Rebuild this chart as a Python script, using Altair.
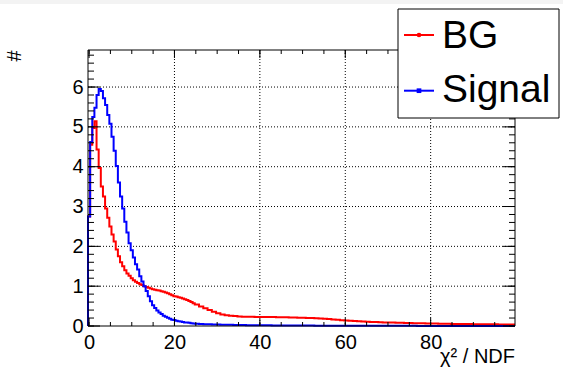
import altair as alt
import pandas as pd

# ---------------- data ----------------
# histogram range and bin layout: 0.5-wide bins (centred 0.0 ... 24.5), then 1-wide bins up to the end
x_lo = -0.25
x_hi = 99.75
fine_width = 0.5
coarse_width = 1.0

bg_fine = [2.75, 4.55, 4.97, 5.14, 4.43, 3.97, 3.50, 3.25, 2.95, 2.72,
           2.50, 2.30, 2.12, 1.92, 1.75, 1.60, 1.50, 1.40, 1.32, 1.26,
           1.20, 1.15, 1.11, 1.08, 1.05, 1.03, 1.00, 0.98, 0.96, 0.94,
           0.92, 0.91, 0.90, 0.89, 0.87, 0.86, 0.84, 0.82, 0.80, 0.77,
           0.75, 0.74, 0.72, 0.71, 0.69, 0.67, 0.65, 0.63, 0.60, 0.57]
bg_coarse = [0.54, 0.49, 0.445, 0.40, 0.355,
             0.32, 0.29, 0.27, 0.26, 0.25, 0.24, 0.235, 0.23, 0.23, 0.228,
             0.227, 0.226, 0.225, 0.223, 0.222, 0.22, 0.218, 0.215, 0.213, 0.21,
             0.207, 0.203, 0.20, 0.196, 0.19, 0.183, 0.175, 0.165, 0.155, 0.145,
             0.137, 0.13, 0.124, 0.118, 0.113, 0.108, 0.103, 0.099, 0.095, 0.091,
             0.088, 0.085, 0.082, 0.079, 0.076, 0.073, 0.07, 0.068, 0.066, 0.064,
             0.062, 0.06, 0.058, 0.056, 0.055, 0.053, 0.052, 0.05, 0.049, 0.048,
             0.046, 0.045, 0.044, 0.043, 0.042, 0.041, 0.04, 0.039, 0.038, 0.037]

sig_fine = [2.75, 4.62, 5.25, 5.48, 5.80, 5.95, 5.90, 5.72, 5.55, 5.30,
            5.08, 4.75, 4.40, 4.02, 3.60, 3.25, 2.95, 2.62, 2.35, 2.08,
            1.90, 1.72, 1.55, 1.42, 1.25, 1.12, 1.00, 0.88, 0.75, 0.62,
            0.52, 0.45, 0.39, 0.34, 0.30, 0.26, 0.23, 0.21, 0.18, 0.16,
            0.15, 0.13, 0.12, 0.11, 0.10, 0.09, 0.085, 0.08, 0.07, 0.065]
sig_coarse = [0.058, 0.052, 0.047, 0.043, 0.04,
              0.037, 0.034, 0.031, 0.029, 0.027, 0.025, 0.023, 0.021, 0.02, 0.019,
              0.018, 0.017, 0.016, 0.015, 0.014, 0.013, 0.013, 0.012, 0.012, 0.011,
              0.011, 0.010, 0.010, 0.009, 0.009, 0.009, 0.008, 0.008, 0.008, 0.007,
              0.007, 0.007, 0.006, 0.006, 0.006, 0.006, 0.005, 0.005, 0.005, 0.005,
              0.005, 0.004, 0.004, 0.004, 0.004, 0.004, 0.004, 0.003, 0.003, 0.003,
              0.003, 0.003, 0.003, 0.003, 0.003, 0.003, 0.003, 0.003, 0.003, 0.003,
              0.003, 0.002, 0.002, 0.002, 0.002, 0.002, 0.002, 0.002, 0.002, 0.002]

y_max = 6.93
x_major = [0, 20, 40, 60, 80]
x_minor = list(range(0, 100, 5))
y_major = [0, 1, 2, 3, 4, 5, 6]
y_minor = [round(0.2 * i, 1) for i in range(35)]
x_grid = [20, 40, 60, 80]
y_grid = [1, 2, 3, 4, 5, 6]

series_names = ["BG", "Signal"]
series_colors = ["#ff0000", "#0000ff"]
x_title = "χ² / NDF"
y_title = "#"

# ---------------- layout ----------------
W, H = 427, 276
FONT = "Liberation Sans"


def step_frame(fine, coarse):
    lows = [x_lo + fine_width * i for i in range(len(fine))]
    start = x_lo + fine_width * len(fine)
    lows += [start + coarse_width * i for i in range(len(coarse))]
    vals = fine + coarse
    xs = [x_lo] + lows + [x_hi]
    ys = [0.0] + vals + [vals[-1]]
    return pd.DataFrame({"x": xs, "y": ys, "i": list(range(len(xs)))})


xscale = alt.Scale(domain=[x_lo, x_hi], nice=False, zero=False)
yscale = alt.Scale(domain=[0, y_max], nice=False, zero=False)
xaxis = alt.Axis(values=x_major, ticks=False, domain=False, grid=False,
                 labelFont=FONT, labelFontSize=20, labelColor="#000000",
                 labelPadding=6, title=None, labelOverlap=False)
yaxis = alt.Axis(values=y_major, ticks=False, domain=False, grid=False,
                 labelFont=FONT, labelFontSize=20, labelColor="#000000",
                 labelPadding=5, title=None, labelOverlap=False)


def X():
    return alt.X("x:Q", scale=xscale, axis=xaxis)


def Y():
    return alt.Y("y:Q", scale=yscale, axis=yaxis)


bg_df = step_frame(bg_fine, bg_coarse)
sig_df = step_frame(sig_fine, sig_coarse)

# dotted grid
xgrid = alt.Chart(pd.DataFrame({"x": x_grid})).mark_rule(
    color="#000000", strokeWidth=1, strokeDash=[1, 2]
).encode(x=X(), y=alt.value(0), y2=alt.value(H))
ygrid = alt.Chart(pd.DataFrame({"y": y_grid})).mark_rule(
    color="#000000", strokeWidth=1, strokeDash=[1, 2]
).encode(y=Y(), x=alt.value(0), x2=alt.value(W))

bg_line = alt.Chart(bg_df).mark_line(
    interpolate="step-after", color=series_colors[0], strokeWidth=2
).encode(x=X(), y=Y(), order=alt.Order("i:Q"))
sig_line = alt.Chart(sig_df).mark_line(
    interpolate="step-after", color=series_colors[1], strokeWidth=2
).encode(x=X(), y=Y(), order=alt.Order("i:Q"))


def xticks(vals, length):
    d = pd.DataFrame({"x": vals})
    bot = alt.Chart(d).mark_rule(color="#000000", strokeWidth=1).encode(
        x=X(), y=alt.value(H), y2=alt.value(H - length))
    top = alt.Chart(d).mark_rule(color="#000000", strokeWidth=1).encode(
        x=X(), y=alt.value(0), y2=alt.value(length))
    return [bot, top]


def yticks(vals, length):
    d = pd.DataFrame({"y": vals})
    left = alt.Chart(d).mark_rule(color="#000000", strokeWidth=1).encode(
        y=Y(), x=alt.value(0), x2=alt.value(length))
    right = alt.Chart(d).mark_rule(color="#000000", strokeWidth=1).encode(
        y=Y(), x=alt.value(W), x2=alt.value(W - length))
    return [left, right]


ticks = xticks(x_minor, 4) + xticks(x_major, 8) + yticks(y_minor, 6) + yticks(y_major, 12)

frame = alt.Chart(pd.DataFrame({"a": [0]})).mark_rect(
    fillOpacity=0, stroke="#000000", strokeWidth=1
).encode(x=alt.value(0), x2=alt.value(W), y=alt.value(0), y2=alt.value(H))

xtitle = alt.Chart(pd.DataFrame({"a": [0]})).mark_text(
    font=FONT, fontSize=20, align="right", baseline="alphabetic", color="#000000"
).encode(x=alt.value(W), y=alt.value(313), text=alt.value(x_title))
ytitle = alt.Chart(pd.DataFrame({"a": [0]})).mark_text(
    font=FONT, fontSize=20, align="center", baseline="middle", angle=270, color="#000000"
).encode(x=alt.value(-73), y=alt.value(6), text=alt.value(y_title))

# legend
leg_box = alt.Chart(pd.DataFrame({"a": [0]})).mark_rect(
    fill="#ffffff", stroke="#000000", strokeWidth=1
).encode(x=alt.value(310), x2=alt.value(471), y=alt.value(-41), y2=alt.value(68))

legend_layers = [leg_box]
entry_y = [-15, 40.7]
text_y = [-2.5, 52]
shapes = ["circle", "square"]
for name, col, ey, ty, shp in zip(series_names, series_colors, entry_y, text_y, shapes):
    legend_layers.append(
        alt.Chart(pd.DataFrame({"a": [0]})).mark_rule(color=col, strokeWidth=2).encode(
            x=alt.value(316), x2=alt.value(346), y=alt.value(ey)))
    legend_layers.append(
        alt.Chart(pd.DataFrame({"a": [0]})).mark_point(
            shape=shp, filled=True, size=22, color=col, opacity=1).encode(
            x=alt.value(331), y=alt.value(ey)))
    legend_layers.append(
        alt.Chart(pd.DataFrame({"a": [0]})).mark_text(
            font=FONT, fontSize=39, align="left", baseline="alphabetic", color="#000000").encode(
            x=alt.value(354), y=alt.value(ty), text=alt.value(name)))

top_strip = alt.Chart(pd.DataFrame({"a": [0]})).mark_rect(fill="#f3f3f3").encode(
    x=alt.value(-88), x2=alt.value(W + 48), y=alt.value(-50), y2=alt.value(-46))

chart = alt.layer(
    xgrid, ygrid, bg_line, sig_line, *ticks, frame, xtitle, ytitle, *legend_layers, top_strip
).properties(
    width=W, height=H,
    autosize=alt.AutoSizeParams(type="none"),
    padding={"left": 88, "top": 50, "right": 48, "bottom": 48},
    background="#ffffff",
).configure_view(stroke=None)

chart.save("out.html", embed_options={"renderer": "svg", "actions": False})
